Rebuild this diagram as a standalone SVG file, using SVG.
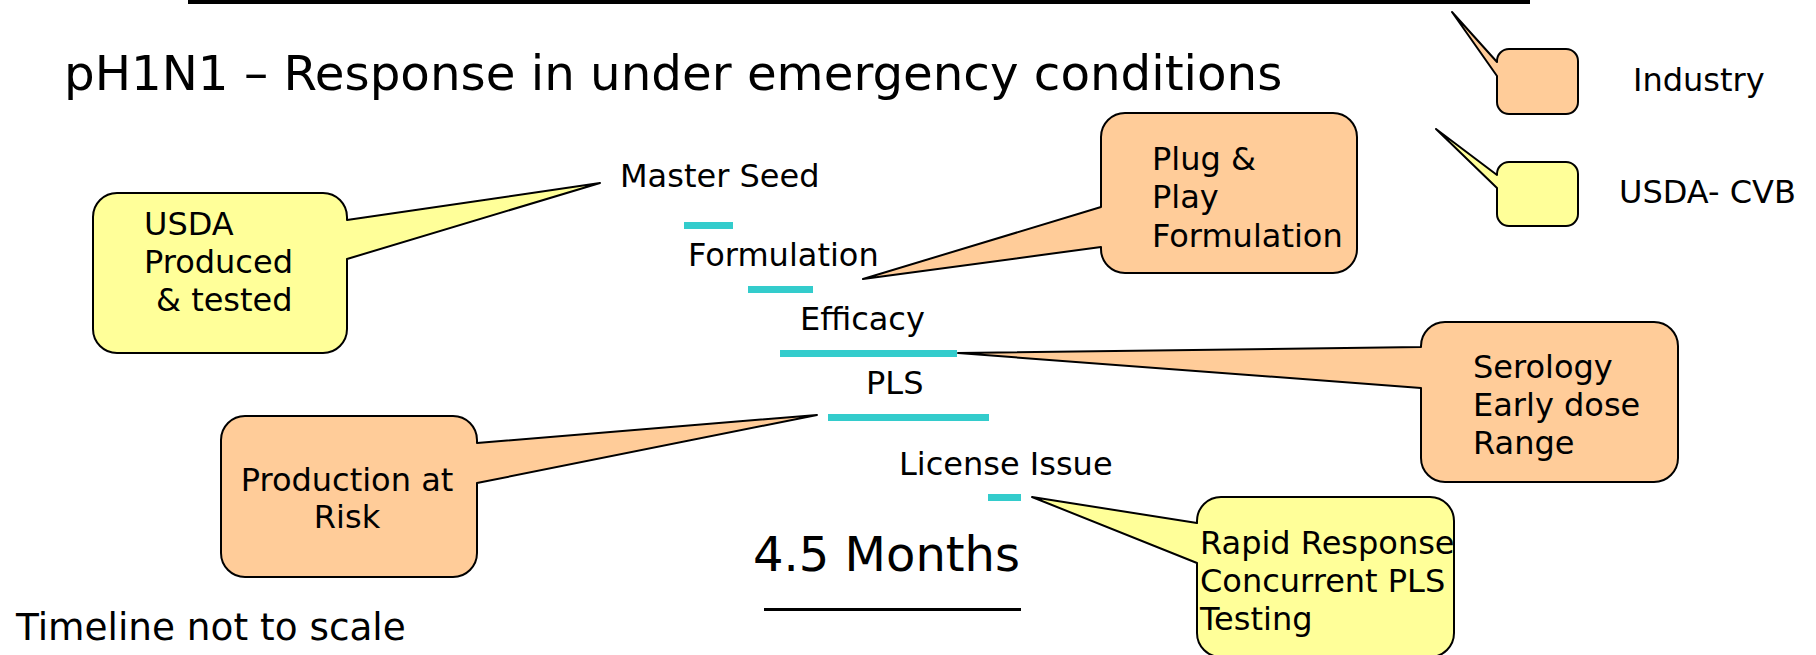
<svg xmlns="http://www.w3.org/2000/svg" width="1816" height="655" viewBox="0 0 1816 655">
<style>
text{font-family:"DejaVu Sans",Verdana,sans-serif;fill:#000;}
.t32{font-size:32px;}
.big{font-size:48px;}
.ind{fill:#FFCC99;stroke:#000;stroke-width:2;stroke-linejoin:round;}
.usda{fill:#FFFF99;stroke:#000;stroke-width:2;stroke-linejoin:round;}
.bar{fill:#33CCCC;}
</style>
<rect x="188" y="0" width="1342" height="4" fill="#000"/>
<text x="64" y="90" style="font-size:48.3px">pH1N1 – Response in under emergency conditions</text>

<g id="legend-industry">
<path class="ind" d="M1509,49 H1566 A12,12 0 0 1 1578,61 V102 A12,12 0 0 1 1566,114 H1509 A12,12 0 0 1 1497,102 V76 L1452,12 L1497,62 V61 A12,12 0 0 1 1509,49 Z"/>
<text class="t32" x="1633" y="91">Industry</text>
</g>
<g id="legend-usda">
<path class="usda" d="M1509,162 H1566 A12,12 0 0 1 1578,174 V214 A12,12 0 0 1 1566,226 H1509 A12,12 0 0 1 1497,214 V188 L1436,129 L1497,175 V174 A12,12 0 0 1 1509,162 Z"/>
<text class="t32" x="1619" y="203">USDA- CVB</text>
</g>

<g id="timeline">
<text class="t32" x="620" y="187">Master Seed</text>
<rect class="bar" x="684" y="222" width="49" height="7"/>
<text class="t32" x="688" y="266">Formulation</text>
<rect class="bar" x="748" y="286" width="65" height="7"/>
<text class="t32" x="800" y="330">Efficacy</text>
<rect class="bar" x="780" y="350" width="177" height="7"/>
<text class="t32" x="866" y="394">PLS</text>
<rect class="bar" x="828" y="414" width="161" height="7"/>
<text class="t32" x="899" y="475">License Issue</text>
<rect class="bar" x="988" y="494" width="33" height="7"/>
</g>

<g id="callout-usda-produced">
<path class="usda" d="M117,193 H323 A24,24 0 0 1 347,217 V220 L600,183 L347,259 V329 A24,24 0 0 1 323,353 H117 A24,24 0 0 1 93,329 V217 A24,24 0 0 1 117,193 Z"/>
<text class="t32" x="144" y="235">USDA</text>
<text class="t32" x="144" y="273">Produced</text>
<text class="t32" x="156" y="311">&amp; tested</text>
</g>

<g id="callout-plug-play">
<path class="ind" d="M1125,113 H1333 A24,24 0 0 1 1357,137 V249 A24,24 0 0 1 1333,273 H1125 A24,24 0 0 1 1101,249 V247 L863,279 L1101,207 V137 A24,24 0 0 1 1125,113 Z"/>
<text class="t32" x="1152" y="170">Plug &amp;</text>
<text class="t32" x="1152" y="208">Play</text>
<text class="t32" x="1152" y="247">Formulation</text>
</g>

<g id="callout-serology">
<path class="ind" d="M1445,322 H1654 A24,24 0 0 1 1678,346 V458 A24,24 0 0 1 1654,482 H1445 A24,24 0 0 1 1421,458 V388 L958,353 L1421,347 V346 A24,24 0 0 1 1445,322 Z"/>
<text class="t32" x="1473" y="378">Serology</text>
<text class="t32" x="1473" y="416">Early dose</text>
<text class="t32" x="1473" y="454">Range</text>
</g>

<g id="callout-production">
<path class="ind" d="M245,416 H453 A24,24 0 0 1 477,440 V443 L817,415 L477,483 V553 A24,24 0 0 1 453,577 H245 A24,24 0 0 1 221,553 V440 A24,24 0 0 1 245,416 Z"/>
<text class="t32" x="347" y="491" text-anchor="middle">Production at</text>
<text class="t32" x="347" y="528" text-anchor="middle">Risk</text>
</g>

<g id="callout-rapid">
<path class="usda" d="M1221,497 H1430 A24,24 0 0 1 1454,521 V633 A24,24 0 0 1 1430,657 H1221 A24,24 0 0 1 1197,633 V563 L1032,497 L1197,523 V521 A24,24 0 0 1 1221,497 Z"/>
<text class="t32" x="1200" y="554">Rapid Response</text>
<text class="t32" x="1200" y="592">Concurrent PLS</text>
<text class="t32" x="1200" y="630">Testing</text>
</g>

<g id="duration">
<text class="big" x="753" y="571">4.5 Months</text>
<line x1="764" y1="609.5" x2="1021" y2="609.5" stroke="#000" stroke-width="3"/>
</g>
<text x="16" y="640" style="font-size:37.4px">Timeline not to scale</text>
</svg>
